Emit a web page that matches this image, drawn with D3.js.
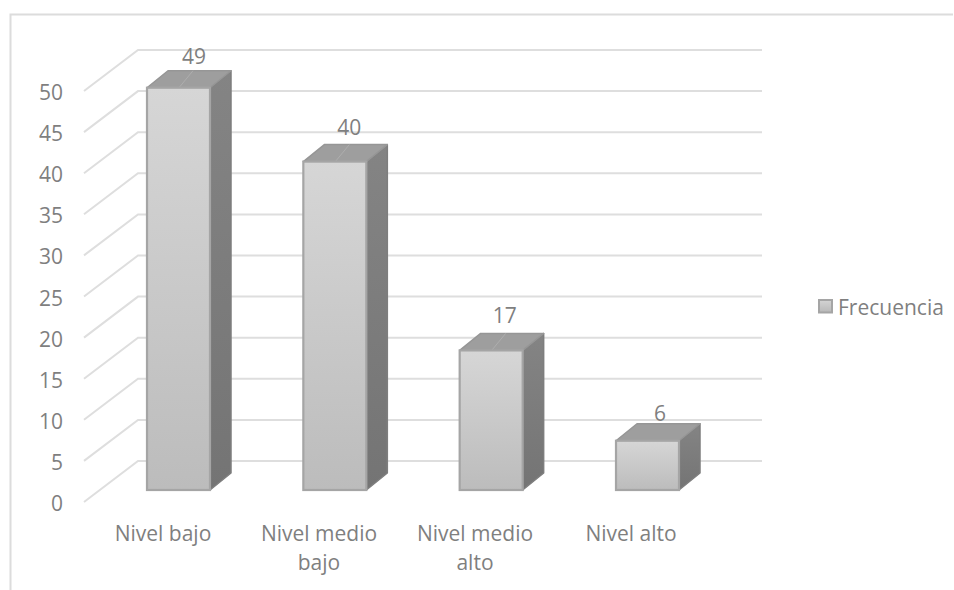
<!DOCTYPE html>
<html><head><meta charset="utf-8">
<script src="https://cdn.jsdelivr.net/npm/d3@7"></script>
<style>html,body{margin:0;padding:0;background:#fff}svg{display:block}text{font-family:"Open Sans",sans-serif;fill:#7f7f7f}</style>
</head><body><svg id="c" width="954" height="590"></svg>
<script>
const categories=[["Nivel bajo"],["Nivel medio","bajo"],["Nivel medio","alto"],["Nivel alto"]];
const values=[49,40,17,6];
const ticks=d3.range(0,51,5);
const seriesName="Frecuencia";

const svg=d3.select("#c");
const fs=21;
const defs=svg.append("defs");
const grad=(id,a,b)=>{const g=defs.append("linearGradient").attr("id",id).attr("x1",0).attr("y1",0).attr("x2",0).attr("y2",1);
 g.append("stop").attr("offset",0).attr("stop-color",a);g.append("stop").attr("offset",1).attr("stop-color",b);};
grad("front","#d6d6d6","#bcbcbc");grad("side","#848484","#747474");grad("leg","#d4d4d4","#b8b8b8");

// frame
svg.append("path").attr("d","M10.5,590V14.5H953").attr("fill","none").attr("stroke","#dcdcdc").attr("stroke-width",2);

// wall grid: y scale is the front plane; the back wall is shifted
const yFront=d3.scaleLinear().domain([0,50]).range([502,91]);
const wallDx=54,wallDy=-41,xFront=84,xEnd=762;
const grid=svg.append("g").attr("fill","none").attr("stroke","#dedede").attr("stroke-width",2);
grid.selectAll("path").data(ticks).join("path")
 .attr("d",d=>`M${xFront},${yFront(d)}L${xFront+wallDx},${yFront(d)+wallDy}H${xEnd}`);

// tick labels
svg.append("g").selectAll("text").data(ticks).join("text")
 .attr("x",63).attr("y",d=>yFront(d)+1).attr("text-anchor","end").attr("dominant-baseline","central")
 .attr("font-size",fs).text(d=>d);

// bars
const idx=d3.range(categories.length);
const xb=d3.scalePoint().domain(idx).range([147,616]);
const xl=d3.scalePoint().domain(idx).range([194,660]);
const xc=d3.scalePoint().domain(idx).range([163,631]);
const labelGap=[15,18,18,11];
const barW=63,dx=21,dy=17;
const yBar=d3.scaleLinear().domain([0,50]).range([490,79.5]);
const bars=svg.append("g").selectAll("g").data(values).join("g");
bars.each(function(v,i){
 const g=d3.select(this),l=xb(i),r=l+barW,t=yBar(v),b=yBar(0);
 g.append("path").attr("d",`M${r},${t}L${r+dx},${t-dy}V${b-dy}L${r},${b}Z`).attr("fill","url(#side)").attr("stroke","#7e7e7e").attr("stroke-width",1.5).attr("stroke-linejoin","round");
 g.append("path").attr("d",`M${l},${t}L${l+dx},${t-dy}H${r+dx}L${r},${t}Z`).attr("fill","#9e9e9e").attr("stroke","#969696").attr("stroke-width",1.5).attr("stroke-linejoin","round");
 if(v>10) g.append("path").attr("d",`M${l+32},${t}L${l+46},${t-dy}`).attr("stroke","#aeaeae").attr("stroke-width",1).attr("fill","none");
 g.append("rect").attr("x",l).attr("y",t).attr("width",barW).attr("height",b-t).attr("fill","url(#front)").attr("stroke","#a5a5a5").attr("stroke-width",2.2);
});

// data labels
svg.append("g").selectAll("text").data(values).join("text")
 .attr("x",(d,i)=>xl(i)).attr("y",(d,i)=>yBar(d)-dy-labelGap[i])
 .attr("text-anchor","middle").attr("dominant-baseline","central").attr("font-size",fs).text(d=>d);

// category labels
const cat=svg.append("g").selectAll("text").data(categories).join("text")
 .attr("text-anchor","middle").attr("font-size",fs);
cat.each(function(lines,i){
 d3.select(this).selectAll("tspan").data(lines).join("tspan")
  .attr("x",xc(i)).attr("y",(d,j)=>533+j*29).attr("dominant-baseline","central").text(d=>d);
});

// legend
svg.append("rect").attr("x",819).attr("y",300).attr("width",13).attr("height",12.5).attr("fill","url(#leg)").attr("stroke","#a5a5a5").attr("stroke-width",2);
svg.append("text").attr("x",838).attr("y",307).attr("dominant-baseline","central").attr("font-size",fs).text(seriesName);
</script></body></html>
